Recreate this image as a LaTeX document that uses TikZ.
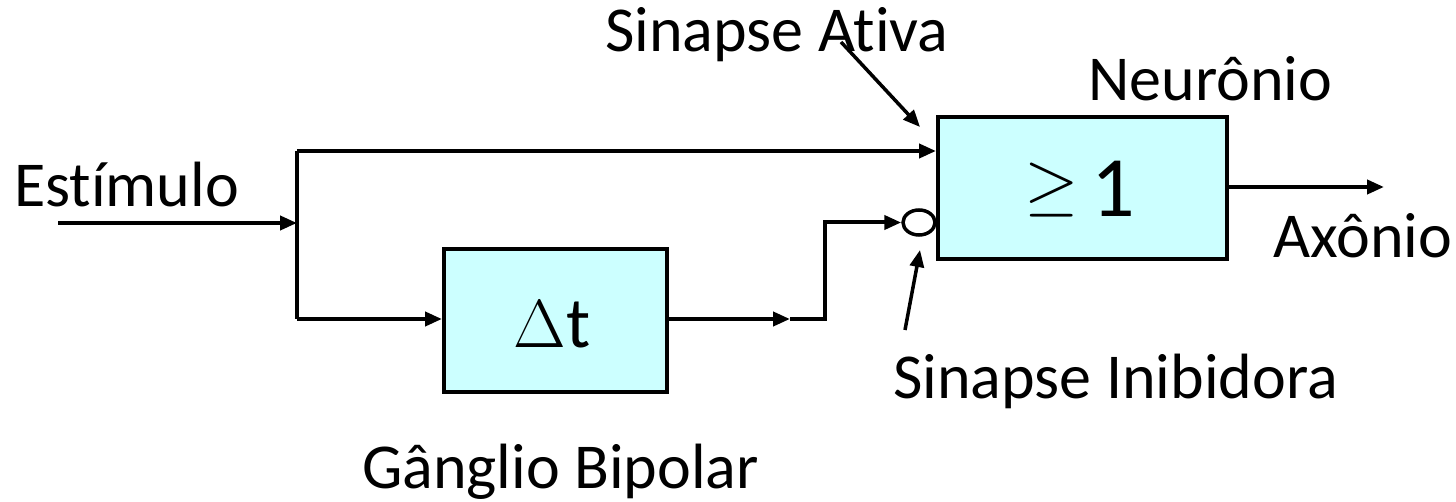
\RequirePackage{fix-cm}
\documentclass[tikz,border=0pt]{standalone}
\usepackage{fontspec}
\setmainfont{Carlito}[Ligatures=NoCommon]
\usetikzlibrary{arrows.meta,shapes.geometric}
\definecolor{boxfill}{RGB}{204,255,255}
\begin{document}
\begin{tikzpicture}[x=1pt,y=-1pt,
  wire/.style={line width=4pt,-{Triangle[length=17pt,width=14pt]}},
  plain/.style={line width=4pt},
  blk/.style={draw,line width=4pt,fill=boxfill,inner sep=0pt,anchor=north west},
  lbl/.style={anchor=base west,inner sep=0pt,font=\fontsize{64}{70}\selectfont}]
\useasboundingbox (0,0) rectangle (1456,502);
% blocks
\node[blk,minimum width=289pt,minimum height=142pt] (neu) at (936,115) {};
\node[anchor=base,inner sep=0pt] (ge) at (1080,217) {\raisebox{9pt}{\fontsize{70}{70}\selectfont$\geq$}\hspace{12pt}{\fontsize{86}{90}\selectfont 1}};
\node[blk,minimum width=223pt,minimum height=143pt] (dt) at (442,247) {};
\node[anchor=base,inner sep=0pt] (dl) at (552,348) {{\fontsize{68}{70}\selectfont$\Delta$}{\fontsize{72}{80}\selectfont t}};
\node[draw,line width=3.5pt,ellipse,minimum width=32pt,minimum height=25pt,inner sep=0pt] (inh) at (919,222.5) {};
% coordinates
\coordinate (s0) at (58,223);
\coordinate (sj) at (297,223);
\coordinate (top) at (297,151);
\coordinate (bot) at (297,319);
\coordinate (m) at (790,319);
\coordinate (k) at (825,319);
\coordinate (ax) at (1384,187);
\coordinate (aa) at (841,42);
\coordinate (ai) at (920,250);
\coordinate (bi) at (905,330);
% wires
\draw[wire] (s0) -- (sj);
\draw[plain,line join=miter] (bot) -- (top);
\draw[wire] (top) -- (neu.west |- top);
\draw[wire] (bot) -- (dt.west |- bot);
\draw[wire] (dt.east |- bot) -- (m);
\draw[wire,line join=miter] (m) -- (k) |- (inh.west);
\draw[wire] (neu.east |- ax) -- (ax);
\draw[line width=3.5pt,-{Triangle[length=17pt,width=14pt]}] (aa) -- (920,127);
\draw[line width=3.5pt,-{Triangle[length=17pt,width=14pt]}] (bi) -- (ai);
% labels
\node[lbl] (la) at (605,52) {Sinapse Ativa};
\node[lbl] (ln) at (1088,101) {Neurônio};
\node[lbl] (le) at (14,207) {Estímulo};
\node[lbl] (lx) at (1273,258) {Axônio};
\node[lbl] (li) at (893,398) {Sinapse Inibidora};
\node[lbl] (lg) at (362,488) {Gânglio Bipolar};
\end{tikzpicture}
\end{document}
